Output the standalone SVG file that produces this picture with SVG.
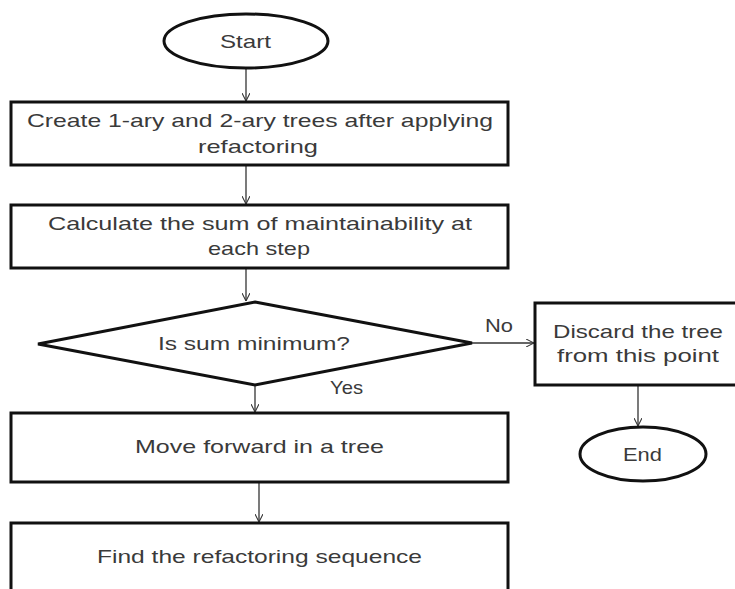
<svg xmlns="http://www.w3.org/2000/svg" width="735" height="589" viewBox="0 0 735 589">
<style>
.shape{fill:#fff;stroke:#111;stroke-width:3}
.t{font-family:"Liberation Sans",Arial,sans-serif;font-size:19px;fill:#3a3a3a;text-anchor:middle}
.c{fill:none;stroke:#333;stroke-width:1.3}
</style>
<defs>
<marker id="arr" viewBox="0 0 10 10" refX="10" refY="5" markerWidth="8" markerHeight="8" markerUnits="userSpaceOnUse" orient="auto">
<path d="M0,0 L10,5 L0,10" fill="none" stroke="#333" stroke-width="1.3"/>
</marker>
</defs>
<rect width="735" height="589" fill="#fff"/>
<g id="connectors">
<line class="c" x1="246" y1="68" x2="246" y2="101" marker-end="url(#arr)"/>
<line class="c" x1="246" y1="165" x2="246" y2="204" marker-end="url(#arr)"/>
<line class="c" x1="246" y1="268" x2="246" y2="301" marker-end="url(#arr)"/>
<line class="c" x1="472" y1="343" x2="534" y2="343" marker-end="url(#arr)"/>
<line class="c" x1="255" y1="385" x2="255" y2="412" marker-end="url(#arr)"/>
<line class="c" x1="638" y1="385" x2="638" y2="426" marker-end="url(#arr)"/>
<line class="c" x1="259" y1="482" x2="259" y2="522" marker-end="url(#arr)"/>
<text class="t" x="499" y="332" textLength="28" lengthAdjust="spacingAndGlyphs">No</text>
<text class="t" x="346.5" y="394" textLength="33" lengthAdjust="spacingAndGlyphs">Yes</text>
</g>
<g id="start">
<ellipse class="shape" cx="246" cy="41" rx="82" ry="27"/>
<text class="t" x="245.5" y="48" textLength="51" lengthAdjust="spacingAndGlyphs">Start</text>
</g>
<g id="create">
<rect class="shape" x="11" y="102" width="497" height="63"/>
<text class="t" x="260" y="127" textLength="466" lengthAdjust="spacingAndGlyphs">Create 1-ary and 2-ary trees after applying</text>
<text class="t" x="258" y="153" textLength="120" lengthAdjust="spacingAndGlyphs">refactoring</text>
</g>
<g id="calculate">
<rect class="shape" x="11" y="205" width="497" height="63"/>
<text class="t" x="260" y="230" textLength="424" lengthAdjust="spacingAndGlyphs">Calculate the sum of maintainability at</text>
<text class="t" x="259" y="255" textLength="102" lengthAdjust="spacingAndGlyphs">each step</text>
</g>
<g id="decision">
<polygon class="shape" points="255,302 472,343 255,385 38,344"/>
<text class="t" x="254" y="350" textLength="192" lengthAdjust="spacingAndGlyphs">Is sum minimum?</text>
</g>
<g id="discard">
<rect class="shape" x="535" y="303" width="205" height="82"/>
<text class="t" x="638" y="338" textLength="170" lengthAdjust="spacingAndGlyphs">Discard the tree</text>
<text class="t" x="638" y="362" textLength="162" lengthAdjust="spacingAndGlyphs">from this point</text>
</g>
<g id="end">
<ellipse class="shape" cx="643" cy="454" rx="63" ry="27"/>
<text class="t" x="642.5" y="461" textLength="39" lengthAdjust="spacingAndGlyphs">End</text>
</g>
<g id="move">
<rect class="shape" x="11" y="413" width="497" height="69"/>
<text class="t" x="259.5" y="453" textLength="249" lengthAdjust="spacingAndGlyphs">Move forward in a tree</text>
</g>
<g id="find">
<rect class="shape" x="11" y="523" width="497" height="72"/>
<text class="t" x="259.5" y="563" textLength="325" lengthAdjust="spacingAndGlyphs">Find the refactoring sequence</text>
</g>
</svg>
